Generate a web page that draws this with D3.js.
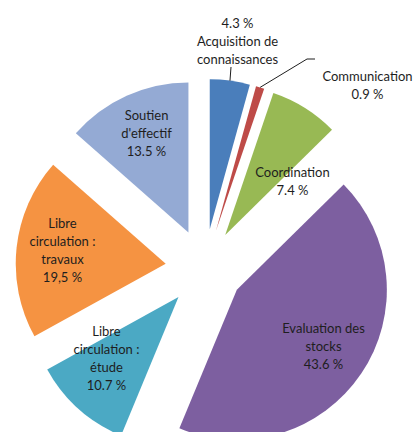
<!DOCTYPE html>
<html>
<head>
<meta charset="utf-8">
<script src="https://cdn.jsdelivr.net/npm/d3@7/dist/d3.min.js"></script>
<style>
  html, body { margin: 0; padding: 0; background: #ffffff; }
  svg { display: block; }
</style>
</head>
<body>
<svg id="chart" width="416" height="432"></svg>
<script>
// Share of activity by field (percent)
const categories = [
  "Acquisition de connaissances",
  "Communication",
  "Coordination",
  "Evaluation des stocks",
  "Libre circulation : étude",
  "Libre circulation : travaux",
  "Soutien d'effectif"
];
const shares = [4.3, 0.9, 7.4, 43.6, 10.7, 19.5, 13.5];
const decimalMarks = [".", ".", ".", ".", ".", ",", "."];
const sliceColors = ["#4A7EBB", "#BE4B48", "#98B954", "#7D5FA0", "#4BA9C4", "#F59342", "#94AAD4"];

// Lines of each data label; "{p}" is replaced by the formatted share
const labelLines = [
  ["{p}", "Acquisition de", "connaissances"],
  ["Communication", "{p}"],
  ["Coordination", "{p}"],
  ["Evaluation des", "stocks", "{p}"],
  ["Libre", "circulation :", "étude", "{p}"],
  ["Libre", "circulation :", "travaux", "{p}"],
  ["Soutien", "d'effectif", "{p}"]
];

// Label layout: centre of the first line, relative to the pie centre
const labelOffsets = [
  [33, -245], [163, -192], [88, -96], [119, 60],
  [-98, 63], [-142, -45], [-58, -153]
];
// Leader line start points (relative to the pie centre); null = no leader
const leaderStarts = [
  [[26.5, -201]],
  [[110.5, -209], [102.5, -209]],
  null, null, null, null, null
];

const width = 416, height = 432;
const cx = 204.5, cy = 268;
const radius = 150;
const explode = 39;
const lineGap = 18.3;

const svg = d3.select("#chart");
const g = svg.append("g").attr("transform", `translate(${cx},${cy})`);

const pie = d3.pie().sort(null).value(d => d).startAngle(0).endAngle(2 * Math.PI);
const arcs = pie(shares);
const arc = d3.arc().innerRadius(0).outerRadius(radius);

function midAngle(d) { return (d.startAngle + d.endAngle) / 2; }
function offsetOf(d) {
  const a = midAngle(d);
  return [explode * Math.sin(a), -explode * Math.cos(a)];
}

g.selectAll("path.slice")
  .data(arcs)
  .join("path")
  .attr("class", "slice")
  .attr("d", arc)
  .attr("fill", (d, i) => sliceColors[i])
  .attr("transform", d => { const o = offsetOf(d); return `translate(${o[0]},${o[1]})`; });

// Leader lines end on the outer rim of their slice
arcs.forEach((d, i) => {
  if (!leaderStarts[i]) return;
  const o = offsetOf(d);
  const a = midAngle(d);
  const end = [o[0] + radius * Math.sin(a), o[1] - radius * Math.cos(a)];
  const pts = leaderStarts[i].concat([end]);
  g.append("path")
    .attr("d", d3.line()(pts))
    .attr("fill", "none")
    .attr("stroke", "#1e1e1e")
    .attr("stroke-width", 1);
});

function pctText(i) {
  return d3.format(".1f")(shares[i]).replace(".", decimalMarks[i]) + " %";
}

const labels = g.selectAll("text.label")
  .data(arcs)
  .join("text")
  .attr("class", "label")
  .attr("text-anchor", "middle")
  .attr("font-family", "Lato, 'Open Sans', sans-serif")
  .attr("font-size", 13)
  .attr("fill", "#1e1e1e");

labels.each(function(d, i) {
  const t = d3.select(this);
  labelLines[i].forEach((line, k) => {
    t.append("tspan")
      .attr("x", labelOffsets[i][0])
      .attr("y", labelOffsets[i][1] + k * lineGap)
      .attr("dy", "0.35em")
      .text(line === "{p}" ? pctText(i) : line);
  });
});
</script>
</body>
</html>
